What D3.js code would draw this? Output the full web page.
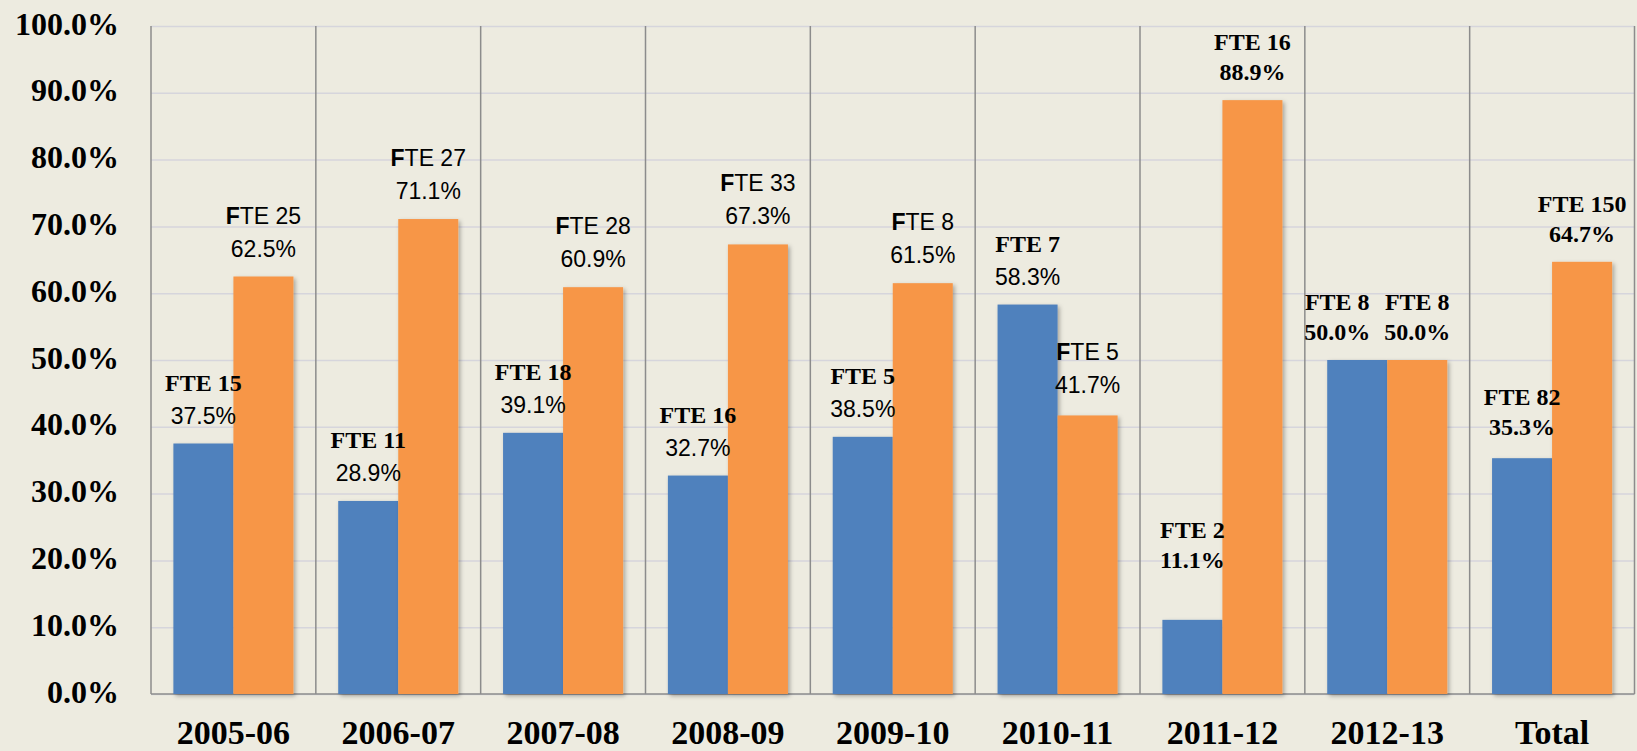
<!DOCTYPE html>
<html>
<head>
<meta charset="utf-8">
<script src="https://cdn.jsdelivr.net/npm/d3@7"></script>
<style>
  body { margin: 0; background: #EDEBE0; }
  svg { display: block; }
</style>
</head>
<body>
<svg id="chart"></svg>
<script>
(function (d3) {
  'use strict'
  // data
  const categories = ['2005-06', '2006-07', '2007-08', '2008-09', '2009-10', '2010-11', '2011-12', '2012-13', 'Total']
  const bluePct = [37.5, 28.9, 39.1, 32.7, 38.5, 58.3, 11.1, 50.0, 35.3]
  const blueFte = [15, 11, 18, 16, 5, 7, 2, 8, 82]
  const orangePct = [62.5, 71.1, 60.9, 67.3, 61.5, 41.7, 88.9, 50.0, 64.7]
  const orangeFte = [25, 27, 28, 33, 8, 5, 16, 8, 150]
  const yTicks = [0, 10, 20, 30, 40, 50, 60, 70, 80, 90, 100]

  const W = 1637
  const H = 751
  const left = 151, right = 1634.5, top = 26, bottom = 694

  const svg = d3.select('#chart').attr('width', W).attr('height', H)

  const defs = svg.append('defs')
  defs.append('filter').attr('id', 'shadow')
    .attr('x', '-10%').attr('y', '-10%').attr('width', '130%').attr('height', '130%')
    .append('feDropShadow')
    .attr('dx', 2).attr('dy', 2).attr('stdDeviation', 2)
    .attr('flood-color', '#000').attr('flood-opacity', 0.3)

  const x = d3.scaleBand().domain(categories).range([left, right]).padding(0)
  const inner = d3.scaleBand().domain(['blue', 'orange'])
    .range([0, x.bandwidth()]).paddingInner(0).paddingOuter(0.373)
  const y = d3.scaleLinear().domain([0, 100]).range([bottom, top])

  // gridlines
  svg.append('g')
    .attr('transform', `translate(${left},0)`)
    .call(d3.axisLeft(y).tickValues(yTicks).tickSize(-(right - left)).tickFormat(''))
    .call(g => g.select('.domain').remove())
    .selectAll('line').attr('stroke', '#D6D5DC').attr('stroke-width', 1.5)

  // category separators
  svg.append('g').selectAll('line')
    .data(d3.range(categories.length + 1))
    .enter().append('line')
    .attr('x1', i => left + i * x.step()).attr('x2', i => left + i * x.step())
    .attr('y1', top).attr('y2', bottom)
    .attr('stroke', '#8C8C8C').attr('stroke-width', 1.5)

  svg.append('line')
    .attr('x1', left).attr('x2', right).attr('y1', bottom).attr('y2', bottom)
    .attr('stroke', '#8C8C8C').attr('stroke-width', 1.5)

  // y axis labels
  svg.append('g')
    .attr('transform', `translate(${left},0)`)
    .call(d3.axisLeft(y).tickValues(yTicks).tickSize(0).tickPadding(32)
      .tickFormat(d => d.toFixed(1) + '%'))
    .call(g => g.select('.domain').remove())
    .selectAll('text')
    .attr('dy', 8)
    .style('font-family', '"Liberation Serif", "Times New Roman", serif')
    .style('font-weight', 'bold')
    .style('font-size', '32px')
    .attr('fill', '#000')

  // x axis labels
  svg.append('g')
    .attr('transform', `translate(0,${bottom})`)
    .call(d3.axisBottom(x).tickSize(0).tickPadding(0))
    .call(g => g.select('.domain').remove())
    .selectAll('text')
    .attr('y', 50).attr('dy', 0)
    .style('font-family', '"Liberation Serif", "Times New Roman", serif')
    .style('font-weight', 'bold')
    .style('font-size', '34px')
    .attr('fill', '#000')

  // bars
  const rows = categories.map((c, i) => ({
    cat: c, i: i,
    blue: { pct: bluePct[i], fte: blueFte[i] },
    orange: { pct: orangePct[i], fte: orangeFte[i] }
  }))

  const colors = { blue: '#4F81BD', orange: '#F79646' }
  const series = ['blue', 'orange']

  series.forEach(s => {
    svg.append('g').selectAll('rect')
      .data(rows).enter().append('rect')
      .attr('x', d => x(d.cat) + inner(s))
      .attr('y', d => y(d[s].pct))
      .attr('width', inner.bandwidth())
      .attr('height', d => bottom - y(d[s].pct))
      .attr('fill', colors[s])
      .attr('filter', 'url(#shadow)')
  })

  // labels
  const SANS = '"Liberation Sans", Arial, sans-serif'
  const SERIF = '"Liberation Serif", "Times New Roman", serif'
  // label nudges [dx, extra lift]
  const nudge = { 'blue-6': [0, 32], 'blue-7': [-20, 0], 'blue-8': [0, 3], 'orange-5': [0, 2] }

  series.forEach(s => {
    rows.forEach(d => {
      const key = s + '-' + d.i
      const nd = nudge[key] || [0, 0]
      const cx = x(d.cat) + inner(s) + inner.bandwidth() / 2 + nd[0]
      const serifAll = d.i >= 6
      const pctY = y(d[s].pct) - 20 - nd[1]
      const gap = serifAll ? 30 : 33
      const g = svg.append('g').attr('fill', '#000').attr('text-anchor', 'middle')

      const fte = g.append('text').attr('x', cx).attr('y', pctY - gap)
      if (serifAll || s === 'blue') {
        fte.style('font-family', SERIF).style('font-weight', 'bold')
          .style('font-size', '24px').text('FTE ' + d[s].fte)
      } else {
        fte.style('font-family', SANS).style('font-size', '23px')
        fte.append('tspan').style('font-weight', 'bold').text('F')
        fte.append('tspan').text('TE ' + d[s].fte)
      }

      g.append('text').attr('x', cx).attr('y', pctY)
        .style('font-size', serifAll ? '24px' : '23px')
        .style('font-family', serifAll ? SERIF : SANS)
        .style('font-weight', serifAll ? 'bold' : 'normal')
        .text(d[s].pct.toFixed(1) + '%')
    })
  })
}(d3))
</script>
</body>
</html>
